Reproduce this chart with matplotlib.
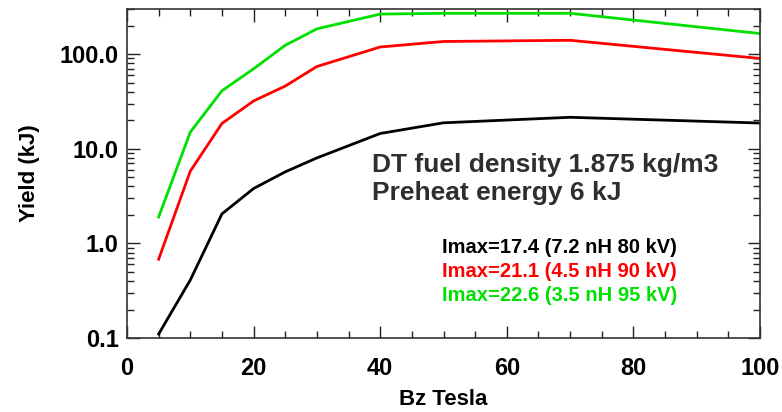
import matplotlib
matplotlib.use("Agg")
import matplotlib.pyplot as plt
from matplotlib.ticker import FixedLocator, LogLocator, NullFormatter

# Bz field (Tesla) and yields (kJ)
bz = [5, 10, 15, 20, 25, 30, 40, 50, 70, 100]
yield_black = [0.11, 0.41, 2.05, 3.8, 5.7, 8.0, 14.5, 18.8, 21.5, 18.7]
yield_red = [0.68, 5.8, 18.5, 32, 46, 74, 119, 136, 140, 90]
yield_green = [1.9, 15.0, 41, 70, 124, 185, 265, 270, 270, 165]

labels = ["Imax=17.4 (7.2 nH 80 kV)",
          "Imax=21.1 (4.5 nH 90 kV)",
          "Imax=22.6 (3.5 nH 95 kV)"]
colors = ["#000000", "#ff0000", "#00e000"]

plt.rcParams['font.family'] = ['Liberation Sans', 'DejaVu Sans']
plt.rcParams['font.weight'] = 'bold'

fig = plt.figure(figsize=(7.82, 4.12), dpi=100)
ax = fig.add_axes([0.1624, 0.1796, 0.8095, 0.7986])

for yv, c in zip([yield_black, yield_red, yield_green], colors):
	ax.plot(bz, yv, color=c, lw=2)

ax.set_yscale('log')
ax.set_xlim(0, 100)
ax.set_ylim(0.1, 300)

ax.set_xticks([0, 20, 40, 60, 80, 100])
ax.set_xticklabels(['0', '20', '40', '60', '80', '100'])
ax.xaxis.set_minor_locator(FixedLocator(range(0, 101, 5)))
ax.set_yticks([0.1, 1, 10, 100])
ax.set_yticklabels(['0.1', '1.0', '10.0', '100.0'])
ax.yaxis.set_minor_locator(LogLocator(base=10, subs=range(2, 10)))
ax.yaxis.set_minor_formatter(NullFormatter())

ax.tick_params(which='both', direction='in', top=True, right=True, width=1, colors='#222222',
	labelcolor='black', labelsize=17)
ax.tick_params(which='major', length=9)
ax.tick_params(which='minor', length=5)
ax.tick_params(axis='x', which='major', pad=14)
ax.tick_params(axis='y', which='major', pad=6)
for s in ax.spines.values():
	s.set_color('#333333')
	s.set_linewidth(1.2)

ax.set_xlabel('Bz Tesla', fontsize=16, fontweight='bold', labelpad=6)
ax.set_ylabel('Yield (kJ)', fontsize=16, fontweight='bold', labelpad=14)

ax.text(0.387, 0.483, 'DT fuel density 1.875 kg/m3\nPreheat energy 6 kJ', transform=ax.transAxes,
	fontsize=19, fontweight='bold', color='#2e2e2e', va='center', ha='left', linespacing=1.25)

for i, (t, c) in enumerate(zip(labels, colors)):
	ax.text(0.498, 0.275 - i * 0.073, t, transform=ax.transAxes, fontsize=14.5,
		fontweight='bold', color=c, va='center', ha='left')

fig.savefig('out.png', dpi=100)
